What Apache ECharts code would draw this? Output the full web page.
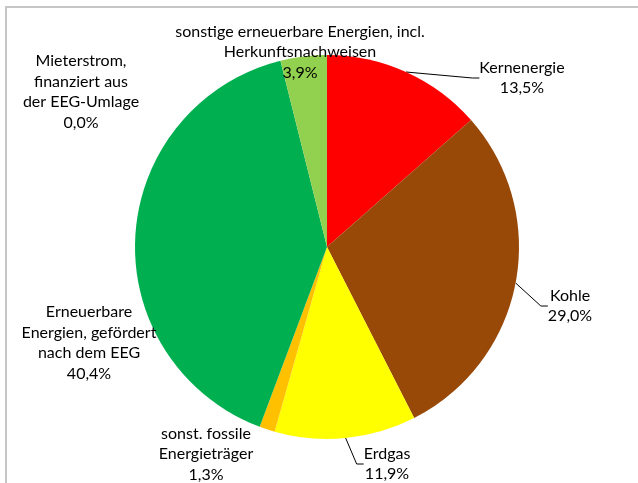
<!DOCTYPE html>
<html>
<head>
<meta charset="utf-8">
<script src="https://cdn.jsdelivr.net/npm/echarts@6/dist/echarts.min.js"></script>
<style>
  html, body { margin: 0; padding: 0; background: #fff; }
  #wrap { position: relative; width: 638px; height: 483px; overflow: hidden; }
  #frame { position: absolute; left: 5px; top: 6px; width: 700px; height: 600px;
           border-left: 2px solid #c6c6c6; border-top: 2px solid #c6c6c6; }
  #chart { position: absolute; left: 0; top: 0; width: 638px; height: 483px; }
</style>
</head>
<body>
<div id="wrap">
  <div id="frame"></div>
  <div id="chart"></div>
</div>
<script>
// Anteile am Strommix (Prozent), im Uhrzeigersinn ab 12 Uhr
const categories = [
  'Kernenergie',
  'Kohle',
  'Erdgas',
  'sonst. fossile\nEnergieträger',
  'Erneuerbare\nEnergien, gefördert\nnach dem EEG',
  'Mieterstrom,\nfinanziert aus\nder EEG-Umlage',
  'sonstige erneuerbare Energien, incl.\nHerkunftsnachweisen'
]
const shares = [13.5, 29.0, 11.9, 1.3, 40.4, 0.0, 3.9]
const colors = ['#ff0000', '#984807', '#ffff00', '#ffc000', '#00b050', '#00b050', '#92d050']
const withLine = [true, true, true, false, false, false, false]

// label anchor points (label block centres)
const labelPos = [
  [522, 78],
  [570, 306],
  [387, 464],
  [206, 454],
  [89, 343],
  [81, 92],
  [300, 52]
]

const fmt = v => v.toFixed(1).replace('.', ',') + '%'

const chart = echarts.init(document.getElementById('chart'), null, { renderer: 'canvas' })

chart.setOption({
  animation: false,
  series: [
    {
      type: 'pie',
      center: [327, 247],
      radius: 192,
      startAngle: 90,
      clockwise: true,
      avoidLabelOverlap: false,
      stillShowZeroSum: true,
      minShowLabelAngle: 0,
      data: categories.map((name, i) => ({
        name: name,
        value: shares[i],
        itemStyle: { color: colors[i] },
        labelLine: { show: withLine[i] }
      })),
      label: {
        show: true,
        position: 'outside',
        formatter: p => p.name + '\n' + fmt(p.value),
        fontFamily: 'Lato',
        fontSize: 16,
        lineHeight: 20.5,
        color: '#000',
        align: 'center'
      },
      labelLine: {
        show: true,
        length: 15,
        length2: 7,
        lineStyle: { color: '#000', width: 1 }
      },
      labelLayout: p => ({
        x: labelPos[p.dataIndex][0],
        y: labelPos[p.dataIndex][1],
        align: 'center',
        verticalAlign: 'middle'
      }),
      itemStyle: { borderWidth: 0 },
      emphasis: { disabled: true }
    }
  ]
})
</script>
</body>
</html>
